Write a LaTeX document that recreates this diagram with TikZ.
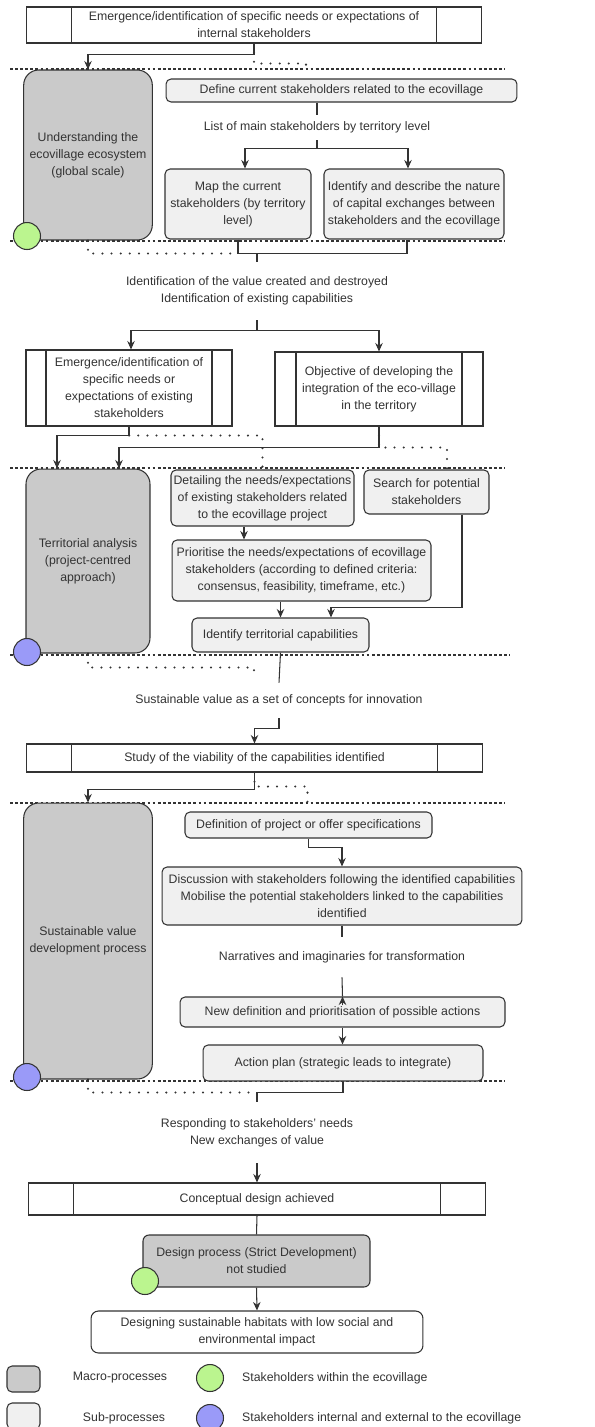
\documentclass[tikz,border=0pt]{standalone}
\usepackage{fontspec}
\setmainfont{Liberation Sans}
\usetikzlibrary{arrows.meta}

\definecolor{ink}{HTML}{333333}
\definecolor{macrogray}{HTML}{CACACA}
\definecolor{subgray}{HTML}{F0F0F0}
\definecolor{inside}{HTML}{BBF58F}
\definecolor{outside}{HTML}{9A9AF8}

\begin{document}
\begin{tikzpicture}[x=0.02cm,y=-0.02cm,
	every node/.style={font=\fontsize{7}{9.7}\selectfont,text=ink,align=center},
	line/.style={draw=ink,line width=0.6pt},
	arr/.style={line,-{Stealth[length=1.7mm,width=1.5mm]}},
	sepline/.style={draw=ink,line width=0.6pt,dash pattern=on 1.6pt off 1.3pt},
	dotline/.style={draw=ink,line width=1.3pt,line cap=round,dash pattern=on 0pt off 5.2pt},
	macro/.style={draw=ink,line width=0.6pt,fill=macrogray,rounded corners=0.3cm,minimum width=2.48cm},
	sub/.style={draw=ink,line width=0.6pt,fill=subgray,rounded corners=0.1cm,inner sep=1pt},
	lbl/.style={inner sep=0pt},
	actor/.style={circle,draw=ink,line width=0.6pt,minimum size=0.54cm,inner sep=0pt},
	procbox/.style={draw=ink,line width=0.6pt,fill=white,inner sep=1pt,
		path picture={
			\draw[ink,line width=0.6pt] ([xshift=#1]path picture bounding box.north west) -- ([xshift=#1]path picture bounding box.south west);
			\draw[ink,line width=0.6pt] ([xshift=-#1]path picture bounding box.north east) -- ([xshift=-#1]path picture bounding box.south east);
		}},
]
	\useasboundingbox (0,0) rectangle (595,1427);

	\draw[sepline] (10,69) -- (505,69);
	\draw[sepline] (10,241) -- (505,241);
	\draw[sepline] (10,468) -- (505,468);
	\draw[sepline] (10,655) -- (510,655);
	\draw[sepline] (10,803) -- (505,803);
	\draw[sepline] (10,1081) -- (505,1081);

	\node[procbox=0.9cm,minimum width=9.12cm,minimum height=0.72cm] (top) at (254,25) {Emergence/identification of specific needs or expectations of\\internal stakeholders};
	\node[macro,minimum height=3.4cm] (g1) at (88,155) {Understanding the\\ecovillage ecosystem\\(global scale)};
	\node[sub,minimum width=7.02cm,minimum height=0.46cm] (def) at (341.5,90.5) {Define current stakeholders related to the ecovillage};
	\node[lbl,minimum height=0.5cm] (lst) at (317,127.5) {List of main stakeholders by territory level};
	\node[sub,minimum width=2.92cm,minimum height=1.4cm] (map) at (238,204) {Map the current\\stakeholders (by territory\\level)};
	\node[sub,minimum width=3.6cm,minimum height=1.4cm] (idn) at (414,204) {Identify and describe the nature\\of capital exchanges between\\stakeholders and the ecovillage};
	\node[lbl,minimum height=1.16cm] (val) at (257,291) {Identification of the value created and destroyed\\Identification of existing capabilities};

	\node[procbox=0.4cm,minimum width=4.12cm,minimum height=1.52cm] (em) at (129,388) {Emergence/identification of\\specific needs or\\expectations of existing\\stakeholders};
	\node[procbox=0.42cm,minimum width=4.16cm,minimum height=1.48cm] (obj) at (379,389) {Objective of developing the\\integration of the eco-village\\in the territory};
	\node[macro,minimum height=3.68cm] (g2) at (88,561) {Territorial analysis\\(project-centred\\approach)};
	\node[sub,minimum width=3.66cm,minimum height=1.12cm] (det) at (262.5,498) {Detailing the needs/expectations\\of existing stakeholders related\\to the ecovillage project};
	\node[sub,minimum width=2.5cm,minimum height=0.88cm] (srch) at (426.5,492) {Search for potential\\stakeholders};
	\node[sub,minimum width=5.18cm,minimum height=1.22cm] (prio) at (301.5,570.5) {Prioritise the needs/expectations of ecovillage\\stakeholders (according to defined criteria:\\consensus, feasibility, timeframe, etc.)};
	\node[sub,minimum width=3.54cm,minimum height=0.68cm] (ter) at (280.5,635) {Identify territorial capabilities};
	\node[lbl,minimum height=0.7cm] (sv) at (279,700.5) {Sustainable value as a set of concepts for innovation};

	\node[procbox=0.9cm,minimum width=9.14cm,minimum height=0.56cm] (study) at (254.5,758) {Study of the viability of the capabilities identified};
	\node[macro,minimum height=5.52cm] (g3) at (88,941) {Sustainable value\\development process};
	\node[sub,minimum width=4.94cm,minimum height=0.52cm] (defn) at (308.5,825) {Definition of project or offer specifications};
	\node[sub,minimum width=7.2cm,minimum height=1.16cm] (disc) at (342,896) {Discussion with stakeholders following the identified capabilities\\Mobilise the potential stakeholders linked to the capabilities\\identified};
	\node[lbl,minimum height=0.8cm] (narr) at (342,957) {Narratives and imaginaries for transformation};
	\node[sub,minimum width=6.5cm,minimum height=0.6cm] (newd) at (342.5,1012) {New definition and prioritisation of possible actions};
	\node[sub,minimum width=5.6cm,minimum height=0.72cm] (act) at (343,1063) {Action plan (strategic leads to integrate)};
	\node[lbl,minimum height=1.22cm] (resp) at (257,1132.5) {Responding to stakeholders' needs\\New exchanges of value};

	\node[procbox=0.9cm,minimum width=9.16cm,minimum height=0.64cm] (conc) at (257,1199) {Conceptual design achieved};
	\node[macro,rounded corners=0.12cm,minimum width=4.54cm,minimum height=1.04cm] (des) at (256.5,1261) {Design process (Strict Development)\\not studied};
	\node[draw=ink,line width=0.6pt,fill=white,rounded corners=0.15cm,minimum width=6.64cm,minimum height=0.84cm] (hab) at (257,1332) {Designing sustainable habitats with low social and\\environmental impact};

	\draw[arr] (top.south) -- ++(0,11) -| (g1.north);
	\draw[dotline] (top.south) -- ++(0,20) -- ++(52,0) -- ++(0,10);
	\draw[line] (def.south -| lst.north) -- (lst.north);
	\draw[line] (lst.south) -- ++(0,8) coordinate (j0);
	\draw[arr] (j0) -| ([xshift=0.14cm]map.north);
	\draw[arr] (j0) -| ([xshift=-0.12cm]idn.north);
	\draw[line] (map.south) -- ++(0,14) coordinate (j1) -| ([xshift=-0.14cm]idn.south);
	\draw[line] (j1 -| val.north) -- (val.north);
	\draw[dotline] (g1.south) -- (g1.south |- j1) -- (j1);
	\draw[line] (val.south) -- ++(0,10) coordinate (j2);
	\draw[arr] (j2) -| ([xshift=0.04cm]em.north);
	\draw[arr] (j2) -| (obj.north);

	\draw[arr] (em.south) -- ++(0,9) -| ([xshift=-0.62cm]g2.north);
	\draw[dotline] (em.south) -- ++(0,9) -| (det.north);
	\draw[arr] (obj.south) -- ++(0,21) -| ([xshift=0.62cm]g2.north);
	\draw[dotline] (obj.south) -- ++(0,21) -| ([xshift=0.41cm]srch.north);
	\draw[arr] ([xshift=-0.37cm]det.south) -- ([xshift=-0.37cm]det.south |- prio.north);
	\draw[arr] (prio.south -| ter.north) -- (ter.north);
	\draw[arr] ([xshift=0.71cm]srch.south) -- ++(0,93) -| ([xshift=1.01cm]ter.north);
	\draw[line] (ter.south) -- (sv.north);
	\draw[dotline] (g2.south) -- ++(0,14) -- ++(166,0) -- ++(0,11);
	\draw[arr] (sv.south) -- ++(0,10) -| (study.north);

	\draw[arr] (study.south) -- ++(0,17) -| (g3.north);
	\draw[dotline] (study.south) -- ++(0,14) -- ++(53,0) -- ++(0,16);
	\draw[arr] (defn.south) -- ++(0,9) -| (disc.north);
	\draw[line] (disc.south) -- (narr.north);
	\draw[line] (narr.south) -- (newd.north);
	\draw[arr] ([yshift=-0.18cm]newd.north) -- (newd.north);
	\draw[arr] (newd.south) -- (newd.south |- act.north);
	\draw[line] (act.south) -- ++(0,11) -| (resp.north);
	\draw[dotline] (g3.south) -- ++(0,13) -- ++(164,0);
	\draw[arr] (resp.south) -- (conc.north);
	\draw[line] (conc.south) -- (des.north);
	\draw[arr] (des.south) -- (hab.north);

	\node[actor,fill=inside] (a1) at (27,236) {};
	\node[actor,fill=outside] (a2) at (27,652) {};
	\node[actor,fill=outside] (a3) at (27,1077) {};
	\node[actor,fill=inside] (a4) at (145,1281) {};

	\node[macro,rounded corners=0.1cm,minimum width=0.66cm,minimum height=0.52cm] (kmacro) at (23.5,1379) {};
	\node (tmacro) at (120,1378) {Macro-processes};
	\node[sub,minimum width=0.66cm,minimum height=0.52cm] (ksub) at (23.5,1416) {};
	\node (tsub) at (124,1418) {Sub-processes};
	\node[actor,fill=inside] (kin) at (210,1378) {};
	\node[anchor=west] (tin) at (236,1378) {Stakeholders within the ecovillage};
	\node[actor,fill=outside] (kout) at (210,1418) {};
	\node[anchor=west] (tout) at (236,1418) {Stakeholders internal and external to the ecovillage};
\end{tikzpicture}
\end{document}
